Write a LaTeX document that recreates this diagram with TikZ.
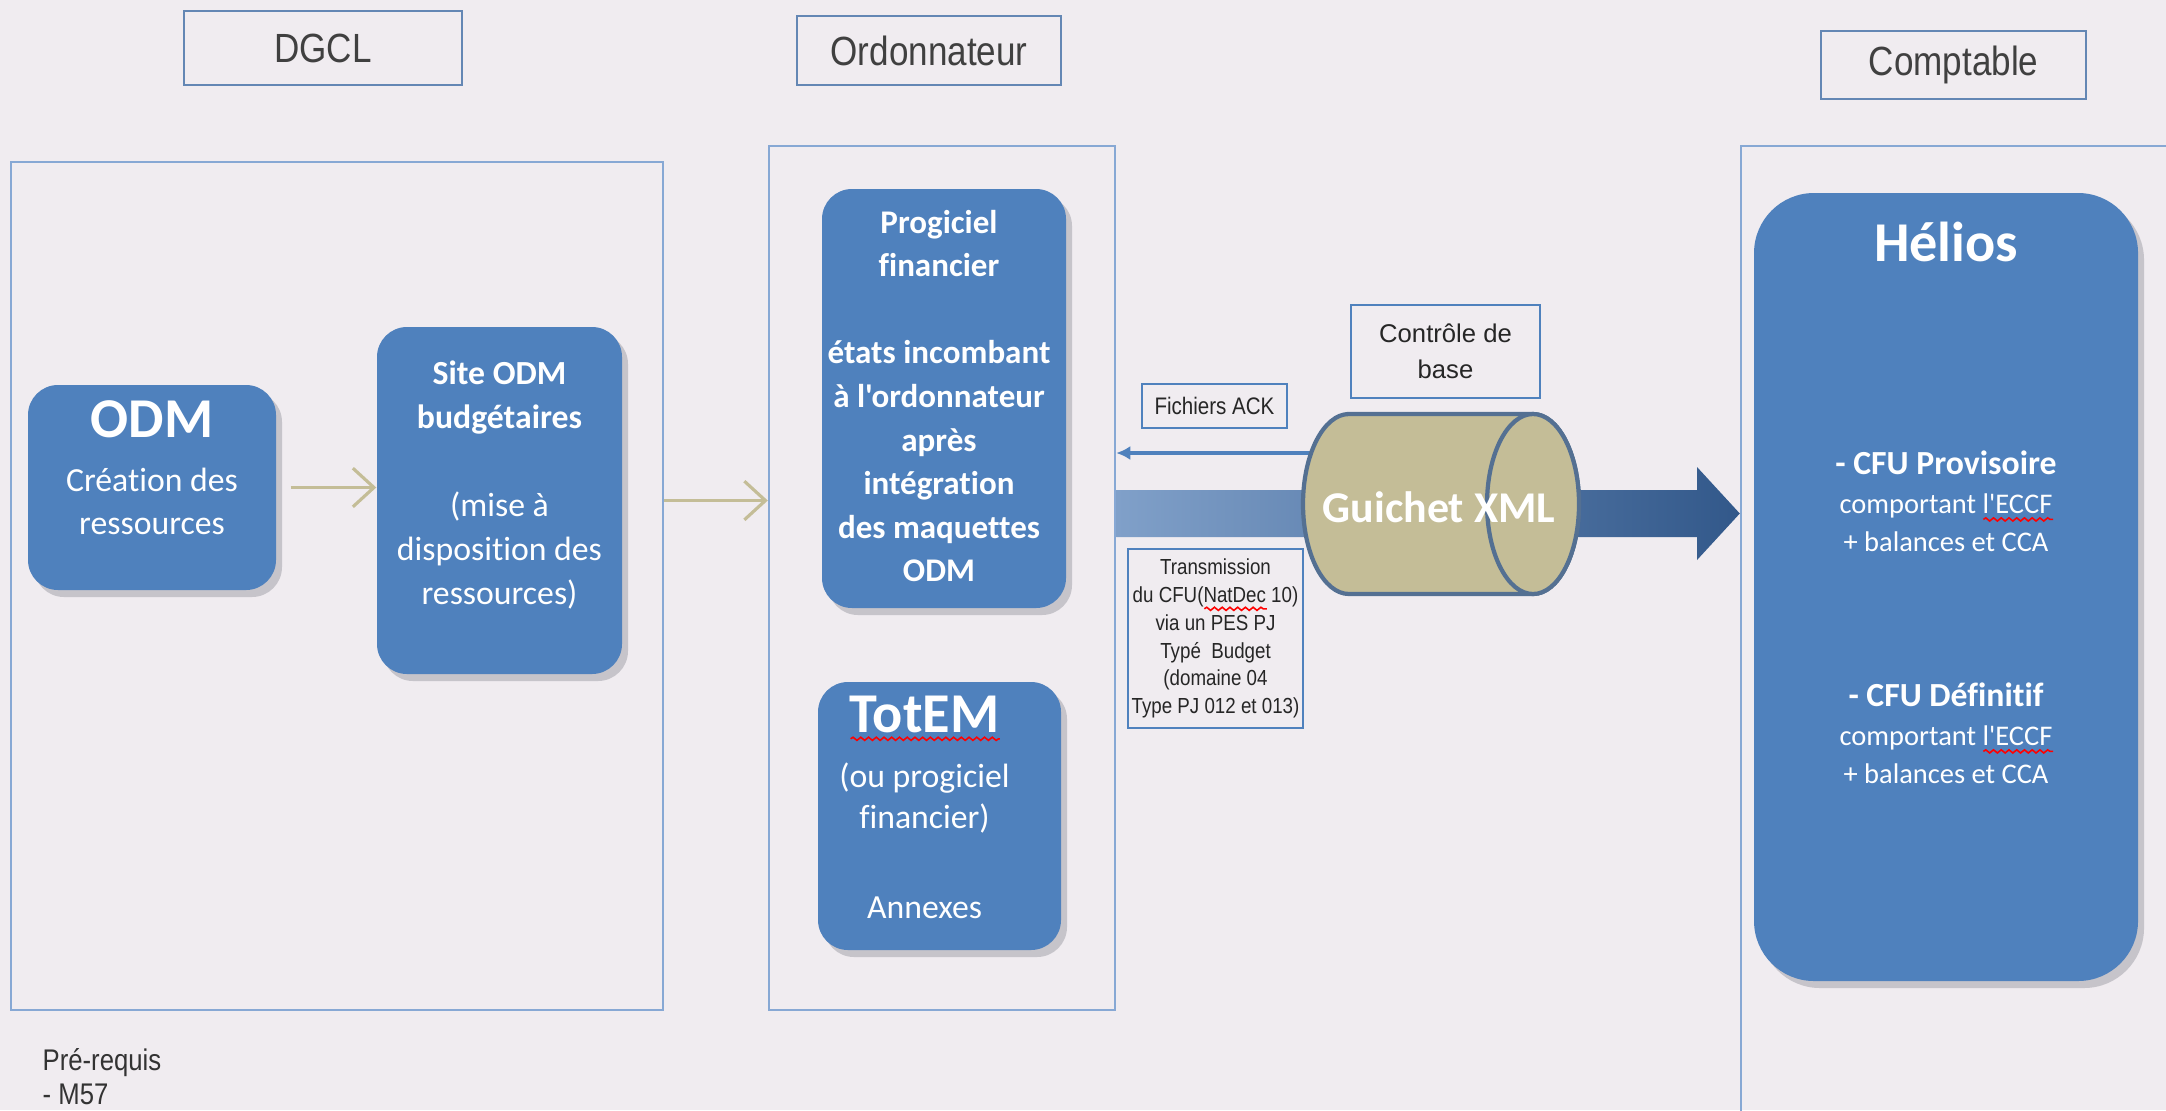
\documentclass[tikz,border=0pt]{standalone}
\usepackage{fontspec}
\setmainfont{Carlito}[Ligatures={NoCommon,TeXReset}]
\newfontfamily\narrowsf[FakeStretch=0.86]{Liberation Sans}
\newfontfamily\plainsf{Liberation Sans}
\usetikzlibrary{positioning,shadows,arrows.meta,decorations.pathmorphing}

\definecolor{bgcol}{RGB}{240,236,240}
\definecolor{boxblue}{RGB}{79,129,189}
\definecolor{zoneline}{RGB}{135,168,212}
\definecolor{headline}{RGB}{100,135,180}
\definecolor{khaki}{RGB}{196,189,151}
\definecolor{cylline}{RGB}{84,112,146}
\definecolor{shaftlight}{RGB}{128,160,201}
\definecolor{shaftdark}{RGB}{50,88,138}
\definecolor{shadowgray}{RGB}{198,196,202}

% red spell-check wave under a word
\newdimen\squigwd
\newcommand\squig[1]{\setbox0\hbox{#1}\squigwd=\wd0
  \rlap{\tikz[baseline=0pt]\draw[red, line width=0.45pt, decorate,
    decoration={snake, amplitude=0.45pt, segment length=2.2pt}] (0,-1.8pt) -- (\the\squigwd,-1.8pt);}%
  \box0{}}

\tikzset{
  zone/.style={draw=zoneline, line width=0.7pt},
  header/.style={draw=headline, line width=0.6pt, text=black!75,
    font=\narrowsf\fontsize{11.6}{14}\selectfont},
  bluebox/.style={fill=boxblue, rounded corners=0.3cm,
    drop shadow={shadow xshift=0.06cm, shadow yshift=-0.07cm, fill=shadowgray, opacity=1}},
  boxtext/.style={text=white, align=center, inner sep=0pt, font=\fontsize{9.6}{12.3}\selectfont},
  smallbox/.style={draw=boxblue, line width=0.5pt, text=black!85, align=center, inner sep=1pt},
  flow/.style={draw=khaki, line width=0.9pt, -{Straight Barb[length=6pt,width=11pt]}},
  ackline/.style={draw=boxblue, line width=1.1pt, -{Latex[length=4pt,width=4pt]}},
  cyl/.style={fill=khaki, draw=cylline, line width=1.2pt},
}

\begin{document}
\begin{tikzpicture}
\useasboundingbox (0,0) rectangle (21.66,11.10);
\fill[bgcol] (0,0) rectangle (21.66,11.10);

%%% headers
\node[header, minimum width=2.78cm, minimum height=0.74cm] (dgcl) at (3.23,10.62) {DGCL};
\node[header, minimum width=2.64cm, minimum height=0.69cm] (ordo) at (9.29,10.595) {Ordonnateur};
\node[header, minimum width=2.65cm, minimum height=0.68cm] (compt) at (19.535,10.45) {Comptable};

%%% the three zones
\node[zone, minimum width=6.52cm, minimum height=8.48cm] (dgclzone) at (3.37,5.24) {};
\node[zone, minimum width=3.46cm, minimum height=8.64cm] (ordozone) at (9.42,5.32) {};
\node[zone, minimum width=5.58cm, minimum height=10.64cm] (comptzone) at (20.2,4.32) {};

%%% DGCL
\node[bluebox, minimum width=2.48cm, minimum height=2.05cm] (odm) at (1.52,6.225) {};
\node[boxtext, below=0.16cm of odm.north] (odmtxt)
  {{\fontsize{16}{18}\selectfont\bfseries ODM}\\[3pt] Création des\\ ressources};
\node[bluebox, minimum width=2.45cm, minimum height=3.47cm] (site) at (4.995,6.095) {};
\node[boxtext, below=0.34cm of site.north, font=\fontsize{9.6}{12.5}\selectfont] (sitetxt)
  {\textbf{Site ODM}\\ \textbf{budgétaires}\\[12.5pt] (mise à\\ disposition des\\ ressources)};

%%% Ordonnateur
\node[bluebox, minimum width=2.44cm, minimum height=4.19cm] (progiciel) at (9.44,7.115) {};
\node[boxtext, below=0.21cm of progiciel.north, xshift=-0.05cm, font=\fontsize{9.4}{12.4}\selectfont\bfseries] (progtxt)
  {Progiciel\\ financier\\[12.4pt] états incombant\\ à l'ordonnateur\\ après\\ intégration\\ des maquettes\\ ODM};
\node[bluebox, minimum width=2.43cm, minimum height=2.68cm] (totem) at (9.395,2.94) {};
\node[boxtext, below=0.14cm of totem.north, xshift=-0.15cm, font=\fontsize{9.6}{11.6}\selectfont] (totemtxt)
  {{\fontsize{16}{18}\selectfont\bfseries\squig{TotEM}}\\[4pt] (ou progiciel\\ financier)\\[14pt] Annexes};

%%% Comptable
\node[bluebox, rounded corners=0.6cm, minimum width=3.84cm, minimum height=7.88cm] (helios) at (19.46,5.23) {};
\node[boxtext, below=0.29cm of helios.north, font=\fontsize{8.1}{11}\selectfont] (heliostxt)
  {{\fontsize{16}{18}\selectfont\bfseries Hélios}\\[49.6pt]
   {\fontsize{9.6}{11}\selectfont\bfseries - CFU Provisoire}\\ comportant \squig{l'ECCF}\\ + balances et CCA\\[33pt]
   {\fontsize{9.6}{11}\selectfont\bfseries - CFU Définitif}\\ comportant \squig{l'ECCF}\\ + balances et CCA};

%%% flows
\draw[flow] ([xshift=0.14cm]odm.east) -- (odm.east -| site.west);
\draw[flow] (dgclzone.east |- site) -- (ordozone.west |- site);

% big arrow towards Helios
\coordinate (shaftin) at (ordozone.east |- 0,5.965);
\coordinate (shafttip) at (comptzone.west |- shaftin);
\shade[left color=shaftlight, right color=shaftdark]
  ([yshift=0.235cm]shaftin) -- (16.97,6.20) -- (16.97,6.43) -- (shafttip)
  -- (16.97,5.50) -- (16.97,5.73) -- ([yshift=-0.235cm]shaftin) -- cycle;

% ACK files back to the ordonnateur
\coordinate (ackfrom) at (13.25,6.57);
\draw[ackline] (ackfrom) -- (ordozone.east |- ackfrom);

% Guichet XML
\draw[cyl] (13.49,6.96) -- (15.33,6.96) arc[start angle=90,end angle=-90,x radius=0.46,y radius=0.9]
  -- (13.49,5.16) arc[start angle=270,end angle=90,x radius=0.46,y radius=0.9] -- cycle;
\draw[cyl] (15.33,6.06) ellipse [x radius=0.46, y radius=0.9];
\node[font=\fontsize{12.5}{14}\selectfont\bfseries, text=white] (guichet) at (14.39,6.03) {Guichet XML};

%%% labels
\node[smallbox, minimum width=1.89cm, minimum height=0.93cm, font=\plainsf\fontsize{7.3}{10.2}\selectfont] (controle)
  at (14.455,7.585) {Contrôle de\\base};
\node[smallbox, minimum width=1.45cm, minimum height=0.44cm, font=\narrowsf\fontsize{6.8}{8}\selectfont] (ack)
  at (12.145,7.04) {Fichiers ACK};
\node[smallbox, minimum width=1.73cm, minimum height=1.79cm, font=\narrowsf\fontsize{6.2}{7.9}\selectfont] (transm)
  at (12.155,4.715) {Transmission\\du CFU(\squig{NatDec} 10)\\via un PES PJ\\Typé\ \ Budget\\(domaine 04\\Type PJ 012 et 013)};

\node[anchor=north west, align=left, inner sep=0pt, text=black!80, font=\narrowsf\fontsize{8.5}{9.5}\selectfont] (prereq)
  at (0.42,0.62) {Pré-requis\\- M57};
\end{tikzpicture}
\end{document}
